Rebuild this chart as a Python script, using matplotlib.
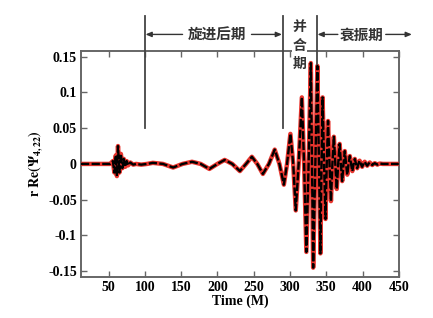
import matplotlib
matplotlib.use("Agg")
import matplotlib.pyplot as plt
import numpy as np

# ---- data ----
# extrema of the waveform (time in M, value of r Re(Psi_4,22))
ext_t = [56, 58, 60, 61.5, 63, 65, 67, 69, 71, 73, 75, 77, 80, 84,
         95, 111, 139, 165, 189, 210, 231, 247.5, 262.7, 279, 291.6,
         300.6, 308, 316.4, 322.6, 328.8, 332, 337.8, 342, 345, 349,
         352.5, 356.5, 360.5, 364.5, 368.5, 372, 375.6, 379, 382.5, 386,
         389.4, 392.7, 396, 399.5, 403, 406.5, 410, 413.5, 417, 420.5, 424]
ext_v = [0.004, -0.012, 0.012, -0.017, 0.025, -0.012, 0.014, -0.006, 0.007,
         -0.004, 0.004, -0.002, 0.002, -0.001,
         -0.001, 0.0015, -0.005, 0.003, -0.007, 0.0056, -0.010, 0.010,
         -0.014, 0.020, -0.029,
         0.042, -0.065, 0.093, -0.123, 0.141, -0.145, 0.137, -0.125, 0.093,
         -0.077, 0.060, -0.052, 0.038, -0.035, 0.028, -0.024, 0.018, -0.015,
         0.011, -0.010, 0.007, -0.006, 0.0045, -0.004, 0.003, -0.0025, 0.002,
         -0.0015, 0.001, -0.001, 0.0005]
# zero crossings / flat parts of the waveform
zero_t = [12, 52, 88, 103, 125, 152, 177, 200, 220.5, 239.5, 255, 271,
          285.5, 296, 304.5, 312, 319.5, 325.7, 330.4, 335, 340, 343.5, 347,
          350.7, 354.5, 358.5, 362.5, 366.5, 370.2, 373.8, 377.3, 380.7,
          384.2, 387.7, 391, 394.3, 397.7, 401.2, 404.7, 408.2, 411.7, 415.2,
          418.7, 422.2, 428, 450]

x_ticks = [50, 100, 150, 200, 250, 300, 350, 400, 450]
y_ticks = [-0.15, -0.1, -0.05, 0, 0.05, 0.1, 0.15]
y_ticklabels = ["-0.15", "-0.1", "-0.05", "0", "0.05", "0.1", "0.15"]

phase_lines = [100, 290, 337]
phase_line_bottom = [0.05, 0.05, 0.14]
phase_labels = ["旋进后期", "并合期", "衰振期"]

# ---- build the curve ----
t_all = np.array(ext_t + zero_t, dtype=float)
v_all = np.array(ext_v + [0.0] * len(zero_t), dtype=float)
order = np.argsort(t_all)
t_all = t_all[order]
v_all = v_all[order]

plt.rcParams['mathtext.fontset'] = 'stix'
serif = ['Liberation Serif', 'DejaVu Serif']
cjk = ['Noto Sans CJK SC', 'DejaVu Sans']

fig = plt.figure(figsize=(4.33, 3.18), dpi=100)
ax = fig.add_axes([0.187, 0.129, 0.734, 0.711])

ax.plot(t_all, v_all, color='#e8352e', lw=3.2, solid_joinstyle='round',
        solid_capstyle='round', zorder=3)
ax.plot(t_all, v_all, color='black', lw=1.7, dashes=(3.5, 1.0),
        dash_joinstyle='round', zorder=4)

ax.set_xlim(12, 450)
ax.set_ylim(-0.158, 0.158)
ax.set_xticks(x_ticks)
ax.set_yticks(y_ticks)
ax.set_yticklabels(y_ticklabels)
for lab in ax.get_xticklabels() + ax.get_yticklabels():
    lab.set_family(serif)
    lab.set_fontweight('bold')
    lab.set_fontsize(10)

ax.tick_params(direction='in', top=True, right=True, length=4, width=1,
               color='#666666', pad=3)
for s in ax.spines.values():
    s.set_color('#666666')
    s.set_linewidth(1.4)

ax.set_xlabel('Time (M)', family=serif, fontweight='bold', fontsize=10, labelpad=0)
ax.set_ylabel(r'$\mathbf{r\ Re(\Psi_{4,22})}$', fontsize=10, labelpad=2)

# phase separators
ytop = 0.207
for xl, yb in zip(phase_lines, phase_line_bottom):
    ax.plot([xl, xl], [yb, ytop], color='#444444', lw=1.3, clip_on=False, zorder=5)

yarr = 0.181
ap = dict(arrowstyle='-|>,head_length=0.35,head_width=0.15', color='#333333',
          lw=1.0, shrinkA=0, shrinkB=0)
ax.annotate('', xy=(101, yarr), xytext=(152, yarr), arrowprops=ap, annotation_clip=False)
ax.annotate('', xy=(289, yarr), xytext=(247, yarr), arrowprops=ap, annotation_clip=False)
ax.text(199, yarr, phase_labels[0], family=cjk, fontweight='bold', fontsize=10.5,
        ha='center', va='center', color='#333333')

ax.annotate('', xy=(338, yarr), xytext=(366, yarr), arrowprops=ap, annotation_clip=False)
ax.annotate('', xy=(468, yarr), xytext=(432, yarr), arrowprops=ap, annotation_clip=False)
ax.text(399, yarr, phase_labels[2], family=cjk, fontweight='bold', fontsize=10.5,
        ha='center', va='center', color='#333333')

for ch, yy in zip(phase_labels[1], [0.191, 0.165, 0.140]):
    ax.text(313.5, yy, ch, family=cjk, fontweight='bold', fontsize=10,
            ha='center', va='center', color='#333333', zorder=6,
            bbox=dict(facecolor='white', edgecolor='none', pad=0.5))

fig.savefig('out.png', dpi=100)
